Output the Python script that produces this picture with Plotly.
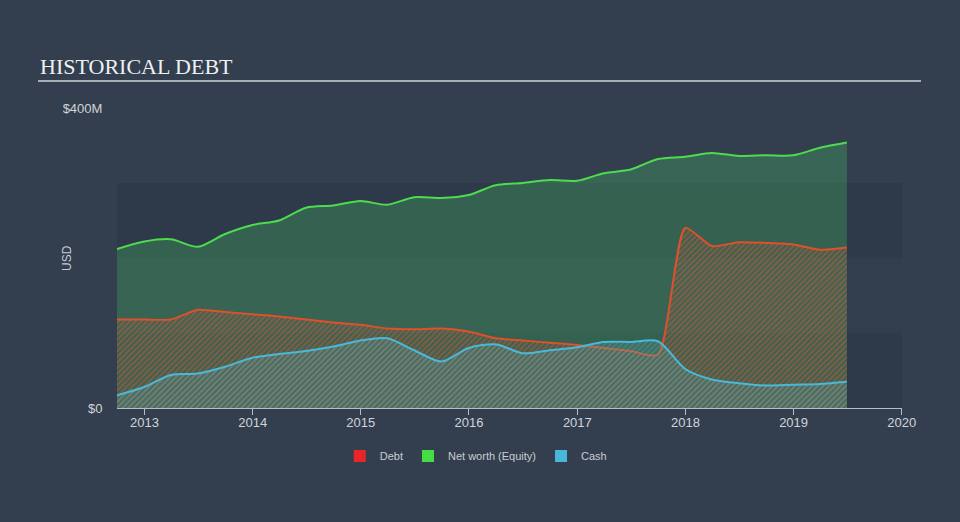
import plotly.graph_objects as go

dates = [
    "2012-09-30", "2012-12-31", "2013-03-31", "2013-06-30", "2013-09-30", "2013-12-31",
    "2014-03-31", "2014-06-30", "2014-09-30", "2014-12-31", "2015-03-31", "2015-06-30",
    "2015-09-30", "2015-12-31", "2016-03-31", "2016-06-30", "2016-09-30", "2016-12-31",
    "2017-03-31", "2017-06-30", "2017-09-30", "2017-12-31", "2018-03-31", "2018-06-30",
    "2018-09-30", "2018-12-31", "2019-03-31", "2019-06-30",
]
equity = [212, 222, 225, 215, 232, 244, 250, 267, 270, 276, 271, 281,
          280, 284, 297, 300, 304, 303, 313, 318, 332, 335, 340, 336,
          337, 337, 347, 354]
debt = [118, 118, 118, 131, 128, 125, 122, 118, 114, 111, 106, 105,
        106, 102, 93, 90, 87, 84, 80, 76, 71, 240, 216, 221,
        220, 218, 211, 214]
cash = [17, 28, 44, 46, 55, 67, 72, 76, 82, 90, 93, 77,
        62, 80, 85, 73, 77, 81, 88, 88, 89, 52, 38, 33,
        30, 31, 32, 35]

years = ["2013", "2014", "2015", "2016", "2017", "2018", "2019", "2020"]
ytick_vals = [0, 400]
ytick_text = ["$0", "$400M"]

BG = "#333f4f"
fig = go.Figure()

# background bands
band_ranges = [(0, 100, "#2e3a4a"), (100, 200, "#323e4e"), (200, 300, "#2e3a4a")]
for y0, y1, c in band_ranges:
    fig.add_shape(type="rect", xref="paper", yref="y", x0=0, x1=1, y0=y0, y1=y1,
                  fillcolor=c, line_width=0, layer="below")

fig.add_trace(go.Scatter(
    x=dates, y=equity, mode="lines", name="Net worth (Equity)", showlegend=False,
    line=dict(color="#4ddc4d", width=2, shape="spline", smoothing=0.8),
    fill="tozeroy", fillcolor="rgba(72,200,100,0.28)", hoverinfo="skip"))

fig.add_trace(go.Scatter(
    x=dates, y=debt, mode="lines", name="Debt", showlegend=False,
    line=dict(color="#e0502a", width=2, shape="spline", smoothing=0.6),
    fill="tozeroy", fillcolor="rgba(0,0,0,0)",
    fillpattern=dict(shape="/", fgcolor="rgba(225,95,55,0.8)", bgcolor="rgba(120,80,60,0.12)",
                     size=4, solidity=0.5),
    hoverinfo="skip"))

fig.add_trace(go.Scatter(
    x=dates, y=cash, mode="lines", name="Cash", showlegend=False,
    line=dict(color="#4ab8da", width=2, shape="spline", smoothing=0.8),
    fill="tozeroy", fillcolor="rgba(0,0,0,0)",
    fillpattern=dict(shape="/", fgcolor="rgba(130,170,170,0.55)", bgcolor="rgba(70,150,160,0.25)",
                     size=4, solidity=0.45),
    hoverinfo="skip"))

# legend entries
for nm, col in [("Debt", "#e8262a"), ("Net worth (Equity)", "#44dd44"), ("Cash", "#48b8d8")]:
    fig.add_trace(go.Scatter(x=[None], y=[None], mode="markers", name=nm,
                             marker=dict(symbol="square", size=16, color=col)))

fig.update_layout(
    width=960, height=522,
    paper_bgcolor=BG, plot_bgcolor=BG,
    margin=dict(l=117, r=58, t=108, b=114),
    font=dict(family="Liberation Sans, Arial, sans-serif", color="#d0d4da"),
    showlegend=True,
    legend=dict(orientation="h", x=0.457, xanchor="center", y=-0.16, yanchor="middle",
                font=dict(size=11, color="#c8ccd2"), itemsizing="constant",
                bgcolor="rgba(0,0,0,0)"),
    xaxis=dict(
        range=["2012-09-30", "2020-01-02"],
        tickvals=[y + "-01-01" for y in years], ticktext=years,
        showgrid=False, zeroline=False,
        showline=True, linecolor="#b4bcc8", linewidth=1,
        ticks="outside", ticklen=6, tickcolor="#b4bcc8",
        ticklabelstandoff=-4,
        tickfont=dict(size=13, color="#d0d4da")),
    yaxis=dict(
        range=[0, 400], tickvals=ytick_vals, ticktext=ytick_text,
        showgrid=False, zeroline=False, showline=False,
        ticks="outside", ticklen=11, tickcolor="rgba(0,0,0,0)",
        tickfont=dict(size=13, color="#d0d4da")),
)

fig.add_annotation(text="USD", xref="paper", yref="paper",
                   x=-(117 - 67) / 785, y=(408 - 258) / 300, xanchor="center", yanchor="middle",
                   textangle=-90, showarrow=False,
                   font=dict(size=12, color="#c8ccd2"))
fig.add_annotation(text="HISTORICAL DEBT", xref="paper", yref="paper",
                   x=-(117 - 38) / 785, y=1 + (108 - 67) / 300, xanchor="left", yanchor="middle",
                   showarrow=False,
                   font=dict(family="Liberation Serif, Times New Roman, serif", size=22, color="#eef0f2"))
fig.add_shape(type="line", xref="paper", yref="paper",
              x0=-(117 - 38) / 785, x1=1 + (921 - 902) / 785,
              y0=1 + (108 - 81) / 300, y1=1 + (108 - 81) / 300,
              line=dict(color="#a8aeb6", width=2))

fig.write_html("out.html", config={"displayModeBar": False},
               post_script="document.body.style.margin='0';document.body.style.overflow='hidden';"
                           "document.body.style.background='" + BG + "';")
